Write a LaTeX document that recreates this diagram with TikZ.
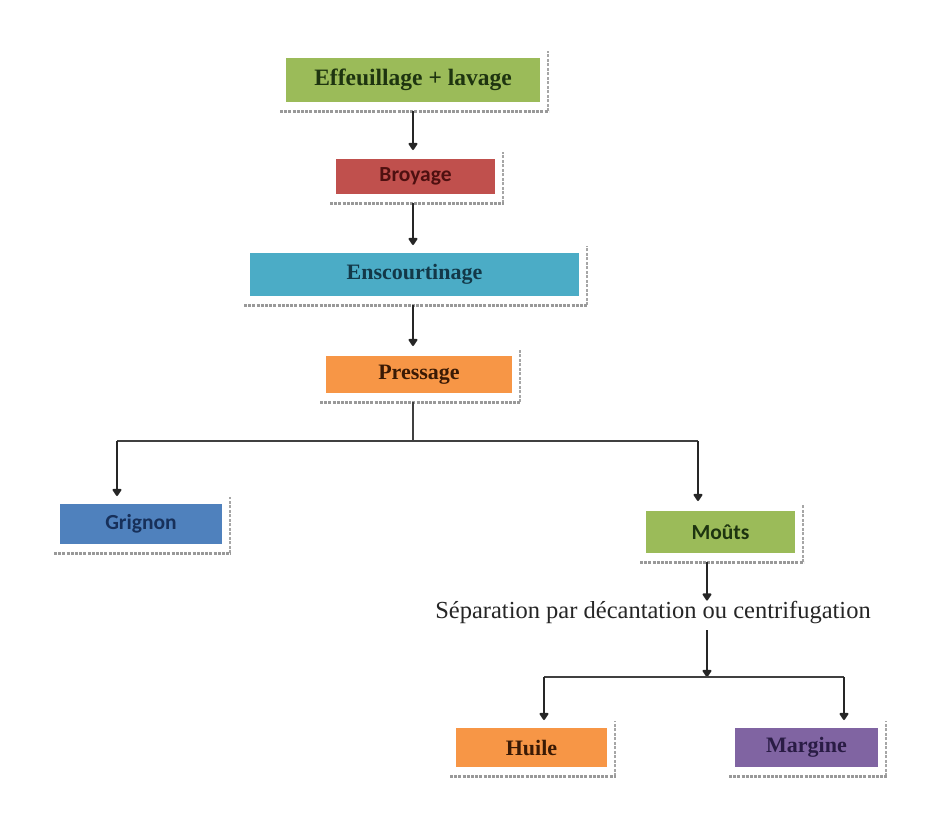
\documentclass[tikz,border=0pt]{standalone}
\usepackage{fontspec}
\setmainfont{Liberation Serif}
\newfontfamily\calib{Carlito}
\usetikzlibrary{arrows.meta}
\definecolor{cgreen}{HTML}{9BBB59}
\definecolor{cred}{HTML}{C0504D}
\definecolor{cteal}{HTML}{4BACC6}
\definecolor{corange}{HTML}{F79646}
\definecolor{cblue}{HTML}{4F81BD}
\definecolor{cpurple}{HTML}{8064A2}
\definecolor{tgreen}{HTML}{1E3410}
\definecolor{tred}{HTML}{4E1010}
\definecolor{tteal}{HTML}{133848}
\definecolor{tbrown}{HTML}{3A1A05}
\definecolor{tblue}{HTML}{17305A}
\definecolor{tpurple}{HTML}{2A1C45}
\tikzset{
  x=1pt,y=-1pt,
  stepbox/.style={draw=none, inner sep=0pt, outer sep=0pt, align=center},
  serifbox/.style={stepbox, font=\fontsize{22}{26}\selectfont\bfseries},
  sansbox/.style={stepbox, font=\calib\fontsize{21.5}{25}\selectfont\bfseries},
  framebottom/.style={draw=gray!80, line width=3pt, dash pattern=on 3pt off 1.2pt},
  frameright/.style={draw=gray!70, line width=1.6pt, dash pattern=on 3pt off 1.5pt},
  arr/.style={draw=black!85, line width=2.2pt, -{Triangle[length=8pt,width=10pt,round]}},
  ln/.style={draw=black!75, line width=1.9pt},
}
\begin{document}
\begin{tikzpicture}
\useasboundingbox (0,0) rectangle (934,838);
\fill[white] (0,0) rectangle (934,838);
\coordinate (axis) at (413,0);

\node[serifbox, font=\fontsize{23.5}{27}\selectfont\bfseries, fill=cgreen, text=tgreen, minimum width=254pt, minimum height=44pt] (eff) at (413,80) {Effeuillage + lavage};
\node[sansbox, fill=cred, text=tred, minimum width=159pt, minimum height=35pt] (bro) at (415.5,176.5) {Broyage};
\node[serifbox, fill=cteal, text=tteal, minimum width=329pt, minimum height=43pt] (ens) at (414.5,274.5) {Enscourtinage};
\node[serifbox, fill=corange, text=tbrown, minimum width=186pt, minimum height=37pt] (pre) at (419,374.5) {Pressage};
\node[sansbox, fill=cblue, text=tblue, minimum width=162pt, minimum height=40pt] (gri) at (141,524) {Grignon};
\node[sansbox, fill=cgreen, text=tgreen, minimum width=149pt, minimum height=42pt] (mou) at (720.5,532) {Moûts};
\node[font=\fontsize{24.5}{29}\selectfont, text=black!85, inner sep=0pt] (sep) at (653,613) {Séparation par décantation ou centrifugation};
\node[serifbox, fill=corange, text=tbrown, minimum width=151pt, minimum height=39pt] (hui) at (531.5,747.5) {Huile};
\node[serifbox, fill=cpurple, text=tpurple, minimum width=143pt, minimum height=39pt] (mar) at (806.5,747.5) {Margine};

% frames (dashed bottom and right edges)
\foreach \n in {eff,bro,ens,pre,gri,mou,hui,mar}{
  \draw[frameright] ([xshift=8pt,yshift=-9pt]\n.south east) -- ([xshift=8pt,yshift=7pt]\n.north east);
  \draw[framebottom] ([xshift=-6pt,yshift=-9pt]\n.south west) -- ([xshift=8.8pt,yshift=-9pt]\n.south east);
}

% main column
\draw[arr] ([yshift=-9pt]eff.south -| axis) -- ([yshift=9pt]bro.north -| axis);
\draw[arr] ([yshift=-9pt]bro.south -| axis) -- ([yshift=8pt]ens.north -| axis);
\draw[arr] ([yshift=-9pt]ens.south -| axis) -- ([yshift=10pt]pre.north -| axis);

% split after Pressage
\coordinate (split) at (413,441);
\coordinate (gx) at (117,0);
\coordinate (mx) at (698,0);
\draw[ln] ([yshift=-9pt]pre.south -| axis) -- (split);
\draw[ln] (split -| gx) -- (split -| mx);
\draw[arr] (split -| gx) -- ([yshift=8pt]gri.north -| gx);
\draw[arr] (split -| mx) -- ([yshift=10pt]mou.north -| mx);

% Moûts -> separation
\coordinate (sx) at (707,0);
\draw[arr] ([yshift=-9pt]mou.south -| sx) -- ([yshift=1pt]sep.north -| sx);
\coordinate (split2) at (707,677);
\coordinate (hx) at (544,0);
\coordinate (rx) at (844,0);
\draw[arr] ([yshift=-6pt]sep.south -| sx) -- (split2);
\draw[ln] (split2 -| hx) -- (split2 -| rx);
\draw[arr] (split2 -| hx) -- ([yshift=8pt]hui.north -| hx);
\draw[arr] (split2 -| rx) -- ([yshift=8pt]mar.north -| rx);
\end{tikzpicture}
\end{document}
